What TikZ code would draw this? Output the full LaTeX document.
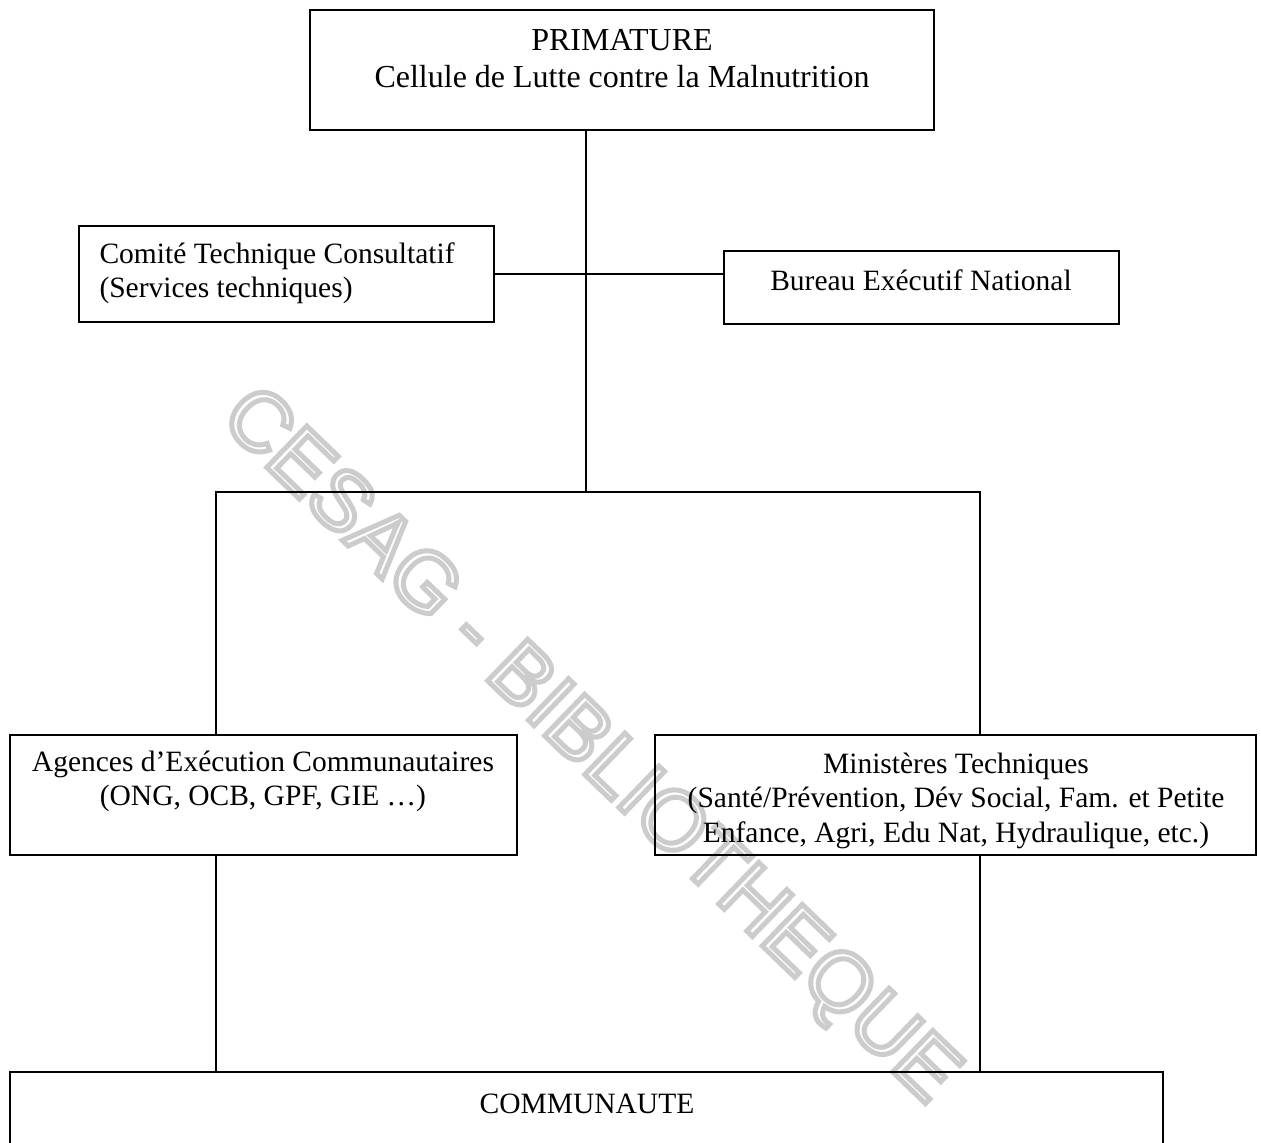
\documentclass[tikz,border=0pt]{standalone}
\usepackage{fontspec}
\setmainfont{Liberation Serif}
\newfontfamily\wmfont{Liberation Sans}
\usetikzlibrary{positioning,fit}

% outlined watermark text
\newcommand{\contourtxt}[1]{\special{pdf:literal direct 0.8 G 2 w 1 Tr}#1\special{pdf:literal direct 0 Tr}}

\begin{document}
\begin{tikzpicture}[x=0.4pt, y=-0.4pt, font=\fontsize{11.8}{13.8}\selectfont]
	\tikzset{
		cadre/.style={draw, line width=0.8pt, inner sep=0pt},
		lien/.style={line width=0.6pt},
		txt/.style={inner sep=0pt, align=center},
	}
	\clip (0,0) rectangle (1261,1142);

	% filigrane
	\node[rotate=-44, inner sep=0pt, font=\wmfont\fontsize{33.5}{40}\selectfont] (cesag) at (588,748) {\contourtxt{CESAG - BIBLIOTHEQUE}};

	% cadres
	\node[cadre, fit={(310,10) (934,130)}] (prim) {};
	\node[cadre, fit={(79,226) (494,322)}] (comite) {};
	\node[cadre, fit={(724,251) (1119,324)}] (bureau) {};
	\node[cadre, fit={(10,735) (517,855)}] (agences) {};
	\node[cadre, fit={(655,735) (1256,855)}] (minist) {};
	\node[cadre, fit={(10,1072) (1163,1170)}] (commu) {};

	% textes
	\node[txt, anchor=north, font=\fontsize{12.8}{14.8}\selectfont] (primtxt) at (622,29) {PRIMATURE\\Cellule de Lutte contre la Malnutrition};
	\node[txt, align=left, anchor=north west] (comitetxt) at (99,242) {Comité Technique Consultatif\\(Services techniques)};
	\node[txt, anchor=base] (bureautxt) at (921,290) {Bureau Exécutif National};
	\node[txt, anchor=north] (agencestxt) at (263,750) {Agences d’Exécution Communautaires\\(ONG, OCB, GPF, GIE \ldots)};
	\node[txt, anchor=north] (ministtxt) at (956,752) {Ministères Techniques\\(Santé/Prévention, Dév Social, Fam. et Petite\\Enfance, Agri, Edu Nat, Hydraulique, etc.)};
	\node[txt, anchor=base] (commutxt) at (587,1113) {COMMUNAUTE};

	% liaisons
	\coordinate (tronc) at (586,492);
	\coordinate (gauche) at (216,492);
	\coordinate (droite) at (980,492);
	\draw[lien] (tronc |- prim.south) -- (tronc);
	\draw[lien] (comite.east) -- (comite.east -| bureau.west);
	\draw[lien] (gauche |- agences.north) -- (gauche) -- (droite) -- (droite |- minist.north);
	\draw[lien] (gauche |- agences.south) -- (gauche |- commu.north);
	\draw[lien] (droite |- minist.south) -- (droite |- commu.north);
\end{tikzpicture}
\end{document}
